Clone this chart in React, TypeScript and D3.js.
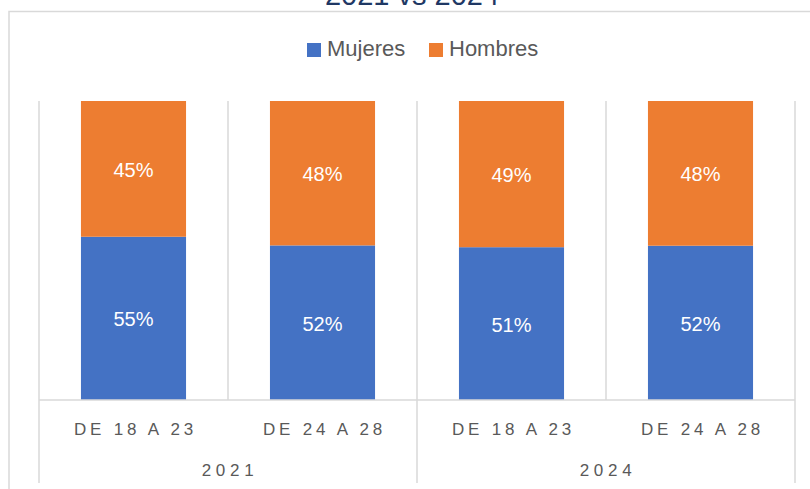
import React from "react";
import * as d3 from "d3";

const years = ["2021", "2024"];
const ageGroups = ["DE 18 A 23", "DE 24 A 28"];
const mujeres = [54.6, 51.7, 51.1, 51.6];
const hombres = [45.4, 48.3, 48.9, 48.4];
const seriesNames = ["Mujeres", "Hombres"];
const seriesColors = ["#4472C4", "#ED7D31"];
const title = "2021 vs 2024";

const W = 810;
const H = 489;
const FONT = "'Liberation Sans', Arial, sans-serif";

export default function App() {
  const keys: string[] = [];
  years.forEach((yr) => ageGroups.forEach((ag) => keys.push(yr + "|" + ag)));

  const plotLeft = 39;
  const plotRight = 795;
  const plotTop = 101;
  const plotBottom = 400;

  const x = d3.scaleBand<string>().domain(keys).range([plotLeft, plotRight]).padding(0);
  const step = x.step();
  const barW = step * 0.556;
  const y = d3.scaleLinear().domain([0, 100]).range([plotBottom, plotTop]);

  const yearScale = d3.scaleBand<string>().domain(years).range([plotLeft, plotRight]).padding(0);

  const rows = keys.map((k, i) => ({ key: k, m: mujeres[i], h: hombres[i] }));
  const stack = d3.stack<any>().keys(["m", "h"])(rows);

  const grid = "#D9D9D9";
  return (
    <svg width={W} height={H} style={{ position: "absolute", left: 0, top: 0, background: "#fff" }}>
      <rect x={0} y={0} width={W} height={H} fill="#fff" />
      {/* chart border */}
      <path d={`M9,${H + 5} V11.5 H${W + 5}`} fill="none" stroke={grid} strokeWidth={1.5} />
      {/* title (cut off at top as in reference) */}
      <text x={412} y={5} textAnchor="middle" fontFamily={FONT} fontSize={29} fill="#1F3864">
        {title}
      </text>
      {/* legend */}
      {seriesNames.map((s, i) => {
        const lx = i === 0 ? 307 : 429;
        return (
          <g key={s}>
            <rect x={lx} y={43} width={14} height={14} fill={seriesColors[i]} />
            <text x={lx + 20} y={56} fontFamily={FONT} fontSize={22} fill="#595959">
              {s}
            </text>
          </g>
        );
      })}
      {/* gridlines */}
      {keys.map((k, i) => (
        <line key={"g" + k} x1={x(k)!} x2={x(k)!} y1={plotTop} y2={i % ageGroups.length === 0 ? 483 : plotBottom} stroke={grid} strokeWidth={1.5} />
      ))}
      <line x1={plotRight} x2={plotRight} y1={plotTop} y2={483} stroke={grid} strokeWidth={1.5} />
      {/* bars */}
      {stack.map((layer, si) =>
        layer.map((d: any) => {
          const k = d.data.key;
          const bx = x(k)! + (step - barW) / 2;
          const y0 = y(d[0]);
          const y1 = y(d[1]);
          const v = d[1] - d[0];
          return (
            <g key={si + k}>
              <rect x={bx} y={y1} width={barW} height={y0 - y1} fill={seriesColors[si]} />
              <text x={bx + barW / 2} y={(y0 + y1) / 2 + 8} textAnchor="middle" fontFamily={FONT} fontSize={20} fill="#fff">
                {Math.round(v) + "%"}
              </text>
            </g>
          );
        })
      )}
      {/* axis line */}
      <line x1={plotLeft} x2={plotRight} y1={plotBottom} y2={plotBottom} stroke={grid} strokeWidth={1.5} />
      {/* category labels */}
      {keys.map((k) => (
        <text key={"l" + k} x={x(k)! + step / 2 + 2} y={435} textAnchor="middle" fontFamily={FONT} fontSize={17} letterSpacing={3.8} fill="#595959">
          {k.split("|")[1]}
        </text>
      ))}
      {years.map((yr) => (
        <text key={"y" + yr} x={yearScale(yr)! + yearScale.bandwidth() / 2 + 2} y={476} textAnchor="middle" fontFamily={FONT} fontSize={17} letterSpacing={4.7} fill="#595959">
          {yr}
        </text>
      ))}
    </svg>
  );
}
